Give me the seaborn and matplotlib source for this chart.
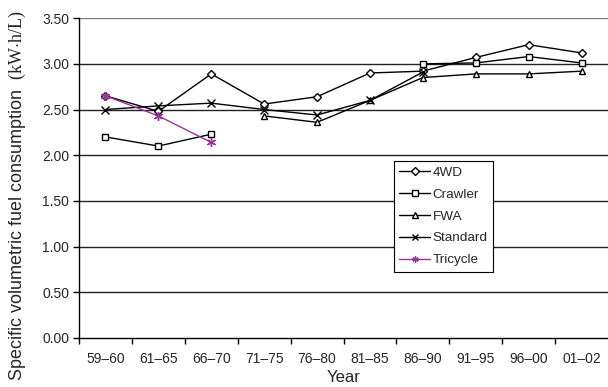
import numpy as np
import pandas as pd
import matplotlib
matplotlib.use("Agg")
import matplotlib.pyplot as plt
import seaborn as sns
from matplotlib.ticker import FixedLocator, NullFormatter, FixedFormatter

years = ["59–60", "61–65", "66–70", "71–75", "76–80", "81–85", "86–90", "91–95", "96–00", "01–02"]
nan = np.nan
fwd4 =     [2.65, 2.48, 2.89, 2.56, 2.64, 2.90, 2.92, 3.07, 3.21, 3.12]
crawler =  [2.20, 2.10, 2.23, nan,  nan,  nan,  3.00, 3.01, 3.08, 3.01]
fwa =      [nan,  nan,  nan,  2.43, 2.36, 2.60, 2.85, 2.89, 2.89, 2.92]
standard = [2.50, 2.54, 2.57, 2.50, 2.44, 2.60, 2.91, nan,  nan,  nan]
tricycle = [2.65, 2.43, 2.14, nan,  nan,  nan,  nan,  nan,  nan,  nan]

series_names = ["4WD", "Crawler", "FWA", "Standard", "Tricycle"]
series_vals = [fwd4, crawler, fwa, standard, tricycle]

rows = []
for name, vals in zip(series_names, series_vals):
    seg = 0
    prev_nan = True
    for i, v in enumerate(vals):
        if np.isnan(v):
            prev_nan = True
            continue
        if prev_nan:
            seg += 1
            prev_nan = False
        rows.append({"pos": i, "value": v, "series": name, "seg": f"{name}_{seg}"})
df = pd.DataFrame(rows)

sns.set_style("white")
plt.rcParams['font.family'] = ['Liberation Sans', 'DejaVu Sans']
plt.rcParams['mathtext.fontset'] = 'custom'
plt.rcParams['mathtext.rm'] = 'Liberation Serif'

fig = plt.figure(figsize=(6.08, 3.87), dpi=100)
ax = fig.add_axes([0.130, 0.127, 0.870, 0.826])

palette = {"4WD": "black", "Crawler": "black", "FWA": "black", "Standard": "black", "Tricycle": "#993399"}
markers = {"4WD": "D", "Crawler": "s", "FWA": "^", "Standard": "x", "Tricycle": (6, 2, 0)}
sizes_m = {"4WD": 3.8, "Crawler": 4.2, "FWA": 5, "Standard": 5.8, "Tricycle": 6.5}

for name in series_names:
    sub = df[df.series == name]
    for i, (sg, d) in enumerate(sub.groupby("seg", sort=False)):
        mk = markers[name]
        sns.lineplot(data=d, x="pos", y="value", ax=ax, color=palette[name],
                     marker=mk, markersize=sizes_m[name],
                     markerfacecolor="white" if name not in ("Standard", "Tricycle") else palette[name],
                     markeredgecolor=palette[name], markeredgewidth=1.0,
                     linewidth=1.0, estimator=None, sort=False,
                     label=name if i == 0 else None)

ax.set_xlim(-0.5, 9.5)
ax.set_ylim(0, 3.5)
ax.yaxis.set_major_locator(FixedLocator(np.arange(0, 3.51, 0.5)))
ax.set_yticklabels([f"{v:.2f}" for v in np.arange(0, 3.51, 0.5)])
ax.xaxis.set_major_locator(FixedLocator(np.arange(-0.5, 9.0, 1.0)))
ax.xaxis.set_major_formatter(NullFormatter())
ax.xaxis.set_minor_locator(FixedLocator(np.arange(0, 10)))
ax.xaxis.set_minor_formatter(FixedFormatter(years))
ax.tick_params(axis="x", which="major", direction="out", length=4, width=1, color="black", bottom=True)
ax.tick_params(axis="x", which="minor", length=0, labelsize=10, pad=10, bottom=True)
ax.tick_params(axis="y", which="major", direction="out", length=4, width=1, color="black", labelsize=10, left=True, pad=3)

ax.grid(False)
for v in np.arange(0.5, 3.51, 0.5):
    ax.axhline(v, color="#222222" if v < 3.4 else "#808080", linewidth=1.0, zorder=0)

for s in ["top", "right"]:
    ax.spines[s].set_visible(False)
for s in ["left", "bottom"]:
    ax.spines[s].set_color("black")
    ax.spines[s].set_linewidth(1.0)

ax.set_xlabel("Year", fontsize=12, labelpad=3)
ax.set_ylabel(r"Specific volumetric fuel consumption  $\mathrm{(kW{\cdot}h/L)}$", fontsize=13, labelpad=8)
ax.yaxis.set_label_coords(-0.097, 0.445)

leg = ax.legend(loc="upper left", bbox_to_anchor=(394/608, 1 - 161/387), bbox_transform=fig.transFigure,
                fontsize=9.7, frameon=True, fancybox=False, edgecolor="black", framealpha=1,
                handlelength=2.3, handletextpad=0.15, borderpad=0.4, labelspacing=0.7, borderaxespad=0)
leg.get_frame().set_linewidth(0.8)
for h in leg.legend_handles:
    h.set_markersize(4.5)

fig.savefig("out.png", dpi=100)
